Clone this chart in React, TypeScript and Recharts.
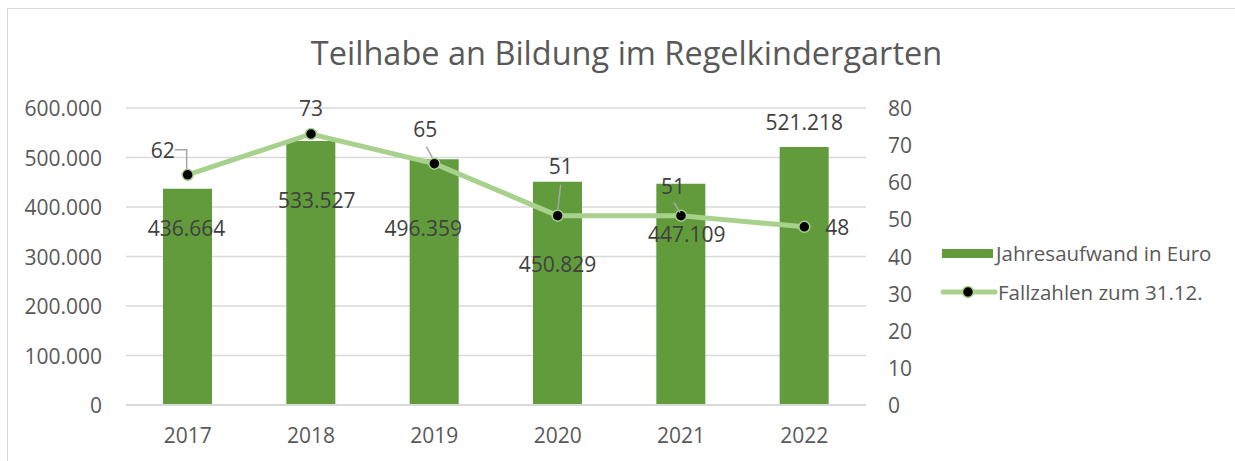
import React from 'react';
import { ComposedChart, Bar, Line, XAxis, YAxis, CartesianGrid, Legend, LabelList } from 'recharts';

const years = ['2017', '2018', '2019', '2020', '2021', '2022'];
const aufwand = [436664, 533527, 496359, 450829, 447109, 521218];
const fallzahlen = [62, 73, 65, 51, 51, 48];
const leftTicks = [0, 100000, 200000, 300000, 400000, 500000, 600000];
const rightTicks = [0, 10, 20, 30, 40, 50, 60, 70, 80];

const chartData = years.map((year, i) => ({ year, aufwand: aufwand[i], fall: fallzahlen[i] }));

// label placement, mimics Excel's smart placement in the original
const barLabelPos = [
  { dx: -1, dy: 39 }, { dx: 6, dy: 59 }, { dx: -11, dy: 69 },
  { dx: 0, dy: 82 }, { dx: 6, dy: 50 }, { dx: 0, dy: -25 },
];
const lineLabelPos: { dx: number; dy: number; leader?: number[][] }[] = [
  { dx: -25, dy: -25, leader: [[-13, -25], [-1, -25], [-1, -5]] },
  { dx: 0, dy: -26 },
  { dx: -9, dy: -35, leader: [[-8, -17], [-2, -6]] },
  { dx: 3, dy: -50, leader: [[3, -31], [0, -5]] },
  { dx: -8, dy: -30, leader: [[-7, -13], [-1, -3]] },
  { dx: 33, dy: 0 },
];

const FONT = '"Open Sans", sans-serif';
const BAR = '#619B3C';
const LINE = '#A9D18E';
const AXIS_TXT = '#595959';

const fmt = (v: number) => String(Math.round(v)).replace(/\B(?=(\d{3})+(?!\d))/g, '.');

const LeftTick = (props: any) => {
  const { x, y, payload } = props;
  return (
    <text x={x} y={y} textAnchor="end" dominantBaseline="central" fill={AXIS_TXT} fontSize={21} fontFamily={FONT}>
      {fmt(payload.value)}
    </text>
  );
};

const RightTick = (props: any) => {
  const { x, y, payload } = props;
  return (
    <text x={x} y={y} textAnchor="start" dominantBaseline="central" fill={AXIS_TXT} fontSize={21} fontFamily={FONT}>
      {payload.value}
    </text>
  );
};

const BottomTick = (props: any) => {
  const { x, y, payload } = props;
  return (
    <text x={x} y={y + 8} textAnchor="middle" dominantBaseline="central" fill={AXIS_TXT} fontSize={21} fontFamily={FONT}>
      {payload.value}
    </text>
  );
};

const BarLabel = (props: any) => {
  const { x, y, width, value, index } = props;
  const p = barLabelPos[index];
  return (
    <text x={x + width / 2 + p.dx} y={y + p.dy} textAnchor="middle" dominantBaseline="central"
      fill="#404040" fontSize={21} fontFamily={FONT}>
      {fmt(value)}
    </text>
  );
};

const LineLabel = (props: any) => {
  const { x, y, value, index } = props;
  const p = lineLabelPos[index];
  return (
    <g>
      {p.leader && (
        <polyline points={p.leader.map(([a, b]) => `${x + a},${y + b}`).join(' ')}
          fill="none" stroke="#a6a6a6" strokeWidth={1.5} />
      )}
      <text x={x + p.dx} y={y + p.dy} textAnchor="middle" dominantBaseline="central"
        fill="#404040" fontSize={21} fontFamily={FONT}>
        {value}
      </text>
    </g>
  );
};

const legendText: React.CSSProperties = {
  fontFamily: FONT, fontSize: 20.5, color: AXIS_TXT, whiteSpace: 'nowrap', lineHeight: '28px',
};

const LegendContent = () => (
  <div style={{ display: 'flex', flexDirection: 'column', gap: 11 }}>
    <div style={{ display: 'flex', alignItems: 'center' }}>
      <div style={{ width: 51, height: 9, background: BAR, marginLeft: 2, marginRight: 3 }} />
      <span style={legendText}>Jahresaufwand in Euro</span>
    </div>
    <div style={{ display: 'flex', alignItems: 'center' }}>
      <svg width={58} height={14} style={{ flex: 'none' }}>
        <line x1={3} y1={7} x2={55} y2={7} stroke={LINE} strokeWidth={5} strokeLinecap="round" />
        <circle cx={28} cy={7} r={5.5} fill="#000" stroke={LINE} strokeWidth={1.5} />
      </svg>
      <span style={legendText}>Fallzahlen zum 31.12.</span>
    </div>
  </div>
);

export default function App() {
  return (
    <div style={{ position: 'absolute', left: 0, top: 0, width: 1235, height: 461, background: '#fff', overflow: 'hidden' }}>
      <div style={{ position: 'absolute', left: 7, top: 8, width: 1300, height: 500, border: '1px solid #d9d9d9' }} />
      <div style={{ position: 'absolute', left: 9, top: 30, width: 1235, textAlign: 'center', fontFamily: FONT, fontSize: 32.5, color: AXIS_TXT, whiteSpace: 'nowrap' }}>
        Teilhabe an Bildung im Regelkindergarten
      </div>
      <div style={{ position: 'absolute', left: 0, top: 0 }}>
        <ComposedChart width={1235} height={461} data={chartData}
          margin={{ top: 108, right: 309, bottom: 0, left: 0 }}>
          <CartesianGrid vertical={false} stroke="#d9d9d9" strokeWidth={1.5} yAxisId="left" />
          <XAxis dataKey="year" height={56} tickLine={false} stroke="#d9d9d9" strokeWidth={2}
            tickMargin={16} tick={<BottomTick />} />
          <YAxis yAxisId="left" width={126} domain={[0, 600000]} ticks={leftTicks}
            axisLine={false} tickLine={false} tickMargin={18} tick={<LeftTick />} />
          <YAxis yAxisId="right" orientation="right" width={60} domain={[0, 80]} ticks={rightTicks}
            axisLine={false} tickLine={false} tickMargin={16} tick={<RightTick />} />
          <Legend layout="vertical" align="center" verticalAlign="middle"
            wrapperStyle={{ left: 940, top: 239, width: 292 }} content={<LegendContent />} />
          <Bar yAxisId="left" dataKey="aufwand" name="Jahresaufwand in Euro" fill={BAR} barSize={49}
            isAnimationActive={false}>
            <LabelList dataKey="aufwand" content={<BarLabel />} />
          </Bar>
          <Line yAxisId="right" dataKey="fall" name="Fallzahlen zum 31.12." stroke={LINE} strokeWidth={5}
            dot={{ r: 5.5, fill: '#000', stroke: LINE, strokeWidth: 1.5 }} activeDot={false}
            isAnimationActive={false}>
            <LabelList dataKey="fall" content={<LineLabel />} />
          </Line>
        </ComposedChart>
      </div>
    </div>
  );
}
